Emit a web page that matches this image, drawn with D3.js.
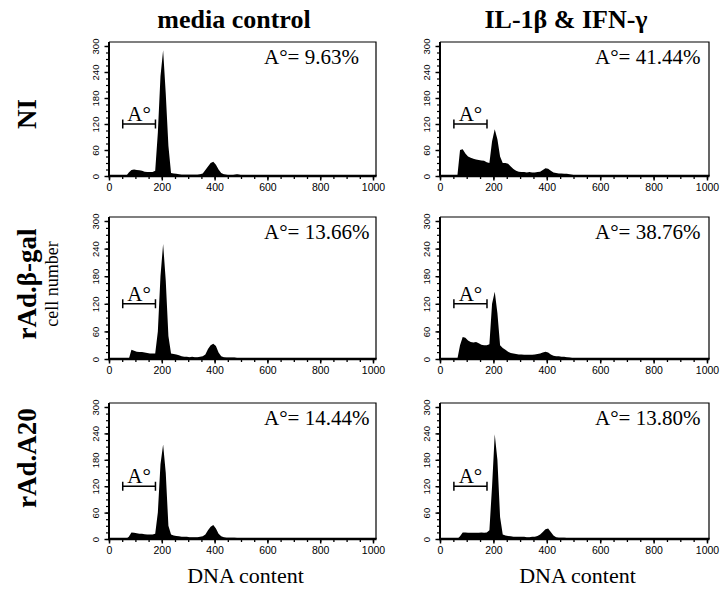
<!DOCTYPE html>
<html><head><meta charset="utf-8">
<script src="https://cdn.jsdelivr.net/npm/d3@7"></script>
<style>body{margin:0;background:#fff}</style>
</head><body>
<svg id="c" width="720" height="589"></svg>
<script>
// ---------------- data ----------------
const columns = ["media control", "IL-1β & IFN-γ"];
const rows = ["NI", "rAd.β-gal", "rAd.A20"];
const apoptosisLabels = [["9.63%", "41.44%"], ["13.66%", "38.76%"], ["14.44%", "13.80%"]];
const xTicks = [0, 200, 400, 600, 800, 1000];
const yTicks = [0, 60, 120, 180, 240, 300];
const binWidth = 10;           // DNA content channels per bin, bins start at 0
const gateRange = [52, 176];   // A° gate (DNA content)
const gateLevel = 120;         // height at which the gate bar is drawn

const histNImedia = [0,0,0,0,0,0,0,8,14,15,14,13,12,10,9,9,9,12,100,230,290,190,70,7,6,5,4,3,3,3,3,3,3,3,4,6,14,22,30,33,26,15,7,4,3,2,2,3,4,3,1,0,0,0,0,0,0,0,0,0];
const histNIcyt   = [0,0,0,0,0,0,0,60,62,52,45,42,40,38,37,36,35,32,30,80,108,85,45,30,30,28,22,16,12,10,9,9,8,9,8,8,9,10,14,18,17,12,8,7,6,6,5,5,4,3,2,1,1,1,1,1,1,1,1,1];
const histBgalMedia = [0,0,0,0,0,0,0,0,20,18,16,15,15,14,13,12,12,12,60,180,250,170,50,12,11,10,8,6,5,5,4,5,4,4,5,6,10,22,30,33,28,14,6,4,3,3,3,3,2,2,1,0,0,0,0,0,0,0,0,0];
const histBgalCyt   = [0,0,0,0,0,0,0,30,48,46,40,37,36,37,34,31,30,30,32,120,146,100,30,24,20,16,13,12,11,10,10,9,9,9,9,10,11,12,14,16,14,10,7,6,6,5,5,4,3,2,1,1,1,1,1,1,1,1,1,1];
const histA20media  = [0,0,0,0,0,0,0,5,15,14,13,12,12,11,10,10,10,12,60,170,215,150,30,10,8,7,6,5,5,5,4,4,4,4,5,6,10,20,28,32,24,12,6,4,3,3,3,3,2,1,0,0,0,0,0,0,0,0,0,0];
const histA20cyt    = [0,0,0,0,0,0,0,6,15,15,14,14,14,14,14,15,14,15,20,120,238,180,50,10,8,7,6,5,5,5,5,5,4,4,5,5,7,10,16,22,24,16,8,4,3,3,3,2,2,1,0,0,0,0,0,0,0,0,0,0];
const histograms = [[histNImedia, histNIcyt], [histBgalMedia, histBgalCyt], [histA20media, histA20cyt]];

// ---------------- layout ----------------
const colBoxes = [{x0: 109, x1000: 373, right: 376, center: 234}, {x0: 440, x1000: 707, right: 709, center: 566}];
const rowBoxes = [{top: 42, y0: 176, y300: 46}, {top: 217, y0: 359, y300: 221}, {top: 403, y0: 539, y300: 407}];
const rowLabelY = [114, 284, 458];

const serif = "'Liberation Serif','Times New Roman',serif";
const sans = "'Liberation Sans Narrow','Liberation Sans',Arial,sans-serif";

const svg = d3.select("#c");

// column titles
columns.forEach((t, c) => {
  svg.append("text").attr("x", colBoxes[c].center).attr("y", 28)
    .attr("text-anchor", "middle").attr("font-family", serif)
    .attr("font-weight", "bold").attr("font-size", 26).text(t);
  svg.append("text").attr("x", (colBoxes[c].x0 + colBoxes[c].right) / 2 + 3).attr("y", 583)
    .attr("text-anchor", "middle").attr("font-family", serif)
    .attr("font-size", 22).text("DNA content");
});

// row labels
rows.forEach((t, r) => {
  svg.append("text").attr("transform", `translate(36,${rowLabelY[r]}) rotate(-90)`)
    .attr("text-anchor", "middle").attr("font-family", serif)
    .attr("font-weight", "bold").attr("font-size", 27).text(t);
});
svg.append("text").attr("transform", `translate(58,${rowLabelY[1]}) rotate(-90)`)
  .attr("text-anchor", "middle").attr("font-family", serif)
  .attr("font-size", 18).text("cell number");

rowBoxes.forEach((rb, r) => {
  colBoxes.forEach((cb, c) => {
    const x = d3.scaleLinear().domain([0, 1000]).range([cb.x0, cb.x1000]);
    const y = d3.scaleLinear().domain([0, 300]).range([rb.y0, rb.y300]);
    const g = svg.append("g");
    const data = histograms[r][c];
    const pts = [[0, 0]].concat(data.map((v, i) => [i * binWidth + binWidth / 2, v]));
    pts.push([data.length * binWidth, 0]);

    // histogram
    g.append("path")
      .datum(pts)
      .attr("fill", "#000")
      .attr("d", d3.area().curve(d3.curveLinear)
        .x(d => x(d[0])).y0(y(0)).y1(d => y(d[1])));

    // frame (top and right thin)
    g.append("path").attr("fill", "none").attr("stroke", "#000").attr("stroke-width", 1.2)
      .attr("d", `M${cb.x0},${rb.top}H${cb.right}V${rb.y0}`);

    // x axis
    const xMinor = g.append("g").attr("transform", `translate(0,${rb.y0})`)
      .call(d3.axisBottom(x).tickValues(d3.range(0, 1001, 50)).tickSize(3).tickFormat(""));
    xMinor.select(".domain").remove();
    xMinor.selectAll("line").attr("stroke-width", 1.3);
    const xAx = g.append("g").attr("transform", `translate(0,${rb.y0})`)
      .call(d3.axisBottom(x).tickValues(xTicks).tickSize(4.5).tickPadding(3).tickFormat(d3.format("d")));
    xAx.select(".domain").remove();
    xAx.selectAll("line").attr("stroke-width", 1.5);
    xAx.selectAll("text").attr("font-family", sans).attr("font-size", 10.5).attr("fill", "#000");

    // y axis
    const yMinor = g.append("g").attr("transform", `translate(${cb.x0},0)`)
      .call(d3.axisLeft(y).tickValues(d3.range(0, 301, 15)).tickSize(3).tickFormat(""));
    yMinor.select(".domain").remove();
    yMinor.selectAll("line").attr("stroke-width", 1.2);
    const yAx = g.append("g").attr("transform", `translate(${cb.x0},0)`)
      .call(d3.axisLeft(y).tickValues(yTicks).tickSize(4.5));
    yAx.select(".domain").remove();
    yAx.selectAll("line").attr("stroke-width", 1.4);
    yAx.selectAll("text").attr("transform", "rotate(-90)")
      .attr("x", 0).attr("y", -13).attr("dy", "0.35em")
      .attr("text-anchor", "middle").attr("font-family", sans)
      .attr("font-size", 9.5).attr("fill", "#000");

    // thick axis lines
    g.append("line").attr("x1", cb.x0).attr("x2", cb.x0).attr("y1", rb.top).attr("y2", rb.y0)
      .attr("stroke", "#000").attr("stroke-width", 2);
    g.append("line").attr("x1", cb.x0 - 1).attr("x2", cb.right + 0.6).attr("y1", rb.y0).attr("y2", rb.y0)
      .attr("stroke", "#000").attr("stroke-width", 2.5);

    // A° gate bracket
    const gy = y(gateLevel), gx0 = x(gateRange[0]), gx1 = x(gateRange[1]);
    g.append("path").attr("fill", "none").attr("stroke", "#000").attr("stroke-width", 1.5)
      .attr("d", `M${gx0},${gy - 4.5}V${gy + 4.5}M${gx0},${gy}H${gx1}M${gx1},${gy - 4.5}V${gy + 4.5}`);
    g.append("text").attr("x", (gx0 + gx1) / 2).attr("y", gy - 3)
      .attr("text-anchor", "middle").attr("font-family", serif).attr("font-size", 21).text("A°");

    // percentage
    g.append("text").attr("x", cb.x0 + 155).attr("y", rb.top + 22)
      .attr("font-family", serif).attr("font-size", 21)
      .text("A°= " + apoptosisLabels[r][c]);
  });
});
</script>
</body></html>
